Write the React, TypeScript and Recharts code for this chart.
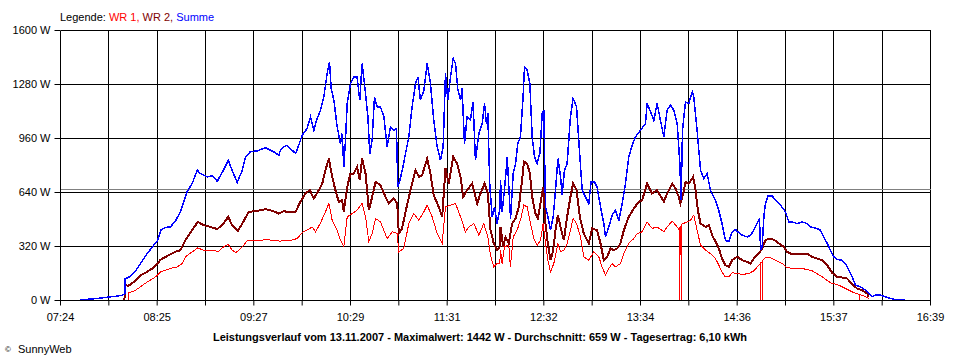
import { LineChart, Line, XAxis, YAxis, CartesianGrid, ReferenceLine } from "recharts";

// time axis in minutes after midnight, 07:24 .. 16:39
const START = 444;
const END = 999;
const TIME_LABELS = ["07:24", "08:25", "09:27", "10:29", "11:31", "12:32", "13:34", "14:36", "15:37", "16:39"];
const Y_TICKS = [0, 320, 640, 960, 1280, 1600];
const AVERAGE = 659;

// [minute, watts]
const WR1: [number, number][] = [
	[487.4, 0], [487.6, 49], [490, 51], [492, 62], [495, 81], [499, 108], [502, 125], [504.6, 140], [508, 170],
	[512, 184], [515, 192], [518.4, 199], [521.6, 219], [523.7, 259], [526, 276], [528, 288], [531.6, 312],
	[535, 298], [538, 296], [541.8, 294], [545, 292], [548, 318], [551, 334], [553.5, 298], [556, 284], [560, 318],
	[563, 354], [567, 356], [571.6, 357], [576, 361], [580, 354], [584.3, 352], [588, 358], [591, 357], [595, 367],
	[598.2, 403], [601.3, 417], [604.5, 436], [606.7, 407], [609.9, 460], [613, 525], [615.2, 575], [617.3, 476],
	[620.5, 417], [622.6, 357], [624.7, 318], [626.9, 496], [630, 515], [633.2, 535], [636.4, 575], [638.6, 496],
	[640.7, 348], [642.8, 397], [645, 486], [648.1, 466], [652.4, 367], [655.6, 407], [658.8, 397], [659.8, 288],
	[663, 308], [666.2, 456], [669.4, 515], [672.6, 476], [675.8, 525], [677.9, 565], [681.1, 496], [684.3, 397],
	[687.5, 338], [689.6, 555], [692.8, 565], [696, 575], [699.2, 496], [702.3, 407], [704.5, 436], [707.7, 456],
	[710.9, 387], [714, 456], [716.6, 377], [718.3, 269], [720.4, 199], [722.5, 219], [724.2, 219], [724.7, 298],
	[725.7, 219], [727.2, 318], [730, 328], [731, 199], [732.8, 377], [735.3, 417], [737.4, 476], [739.6, 565],
	[741.7, 555], [743.8, 456], [746, 367], [748.1, 328], [750.2, 357], [751.9, 456], [753.4, 338], [754.9, 239],
	[756.6, 170], [758.7, 219], [761.3, 338], [763, 288], [765.1, 298], [767.2, 338], [769.3, 417], [771, 486],
	[773.2, 456], [775.7, 377], [777.8, 259], [781, 239], [784.2, 288], [787.4, 259], [789.5, 199], [791.7, 150],
	[793.8, 190], [795.9, 219], [798, 199], [801.2, 219], [803.4, 278], [806.5, 338], [809.7, 367], [811.9, 397],
	[815, 407], [818.2, 466], [821.4, 427], [824.6, 436], [828.9, 407], [831, 436], [834.2, 470], [837.4, 436],
	[838.6, 417], [838.7, 0], [838.8, 430], [839.8, 440], [839.9, 0], [840, 450], [841.2, 456],
	[843.8, 466], [845.9, 476], [848, 506], [850.1, 417], [852.3, 328], [855.5, 298], [858.6, 278], [861.8, 249],
	[864, 209], [866, 170], [868, 140], [870.3, 140], [872.5, 164], [875.7, 160], [878.9, 154], [883.1, 160],
	[886.3, 176], [889.5, 209], [890.5, 219], [890.6, 0], [890.7, 0], [890.8, 225], [891.6, 225], [891.7, 0],
	[891.8, 0], [891.9, 239], [893.7, 253], [897, 253], [900.1, 239], [904.4, 219], [907.6, 194], [912.9, 190],
	[917.1, 190], [923.5, 176], [929.9, 140], [935.2, 105], [940.5, 91], [944.8, 71], [949, 51], [953, 38],
	[953.6, 36], [953.7, 0], [953.8, 36], [956.5, 26], [959.6, 12],
];

const WR2: [number, number][] = [
	[484.8, 0], [485, 99], [487, 85], [490.8, 110], [495, 150], [499.3, 170], [503.5, 195], [508, 243], [512, 263],
	[517, 288], [520.5, 298], [523.7, 357], [528, 417], [531.6, 466], [535.4, 446], [539.7, 436], [544, 423],
	[548, 456], [551, 496], [553.5, 446], [557, 411], [560, 456], [564, 525], [569.5, 531], [574.8, 541], [580, 529],
	[583.3, 515], [586.5, 530], [588.6, 525], [594, 525], [597, 585], [600.3, 634], [603, 654], [605.6, 604],
	[608.2, 644], [611, 693], [613, 772], [615.2, 841], [617.3, 733], [619.4, 654], [621.5, 585], [623.7, 594],
	[624.7, 525], [626.9, 673], [629, 752], [631.1, 752], [633.2, 792], [634.9, 713], [636.4, 841], [638.6, 752],
	[640.7, 535], [642.8, 614], [645, 703], [648.1, 683], [651.3, 614], [653.4, 575], [656.6, 604], [658.8, 575],
	[659.8, 397], [661.9, 427], [664.1, 525], [667.3, 654], [670.5, 772], [672.6, 733], [674.7, 743], [677.9, 841],
	[680, 752], [682.1, 624], [685.3, 555], [687.5, 496], [689.6, 782], [691.7, 693], [694.5, 851], [697, 812],
	[699.2, 733], [700.9, 614], [703.4, 654], [706.6, 693], [709.8, 575], [711.9, 634], [714.5, 693], [716.6, 634],
	[718.3, 417], [720.4, 338], [722.5, 298], [724.2, 318], [724.7, 436], [726.4, 318], [727.9, 377], [730, 338],
	[732.1, 456], [734.3, 486], [736.4, 555], [738.5, 713], [739.6, 822], [741.7, 812], [743.4, 752], [744.9, 614],
	[747, 515], [748.5, 486], [750.2, 575], [751.9, 673], [753.4, 456], [754.9, 338], [756.6, 239], [758.3, 298],
	[759.8, 417], [761.3, 506], [763, 436], [765.1, 357], [767.2, 496], [769.3, 614], [771, 693], [773.2, 654],
	[775.3, 496], [777.8, 397], [781, 338], [783.2, 427], [786.3, 417], [788.5, 338], [790.6, 239], [792.7, 259],
	[794.9, 308], [797, 298], [799.1, 308], [801.2, 338], [803.4, 417], [806.5, 496], [809.7, 545], [812.9, 585],
	[815, 594], [818.2, 693], [821.4, 634], [824.6, 654], [828.9, 585], [831, 634], [834.2, 693], [836.3, 664],
	[838.4, 614], [839.5, 575], [841.2, 634], [842.7, 703], [844.8, 693], [847.6, 733], [849.1, 654], [850.6, 535],
	[852.3, 456], [855.5, 436], [857.6, 446], [859.7, 387], [862.5, 338], [864, 308], [866, 249], [868.2, 209],
	[870.3, 199], [872.5, 239], [875.7, 259], [878.9, 239], [882, 229], [884.2, 219], [886.3, 249], [889.5, 278],
	[891.6, 308], [893.7, 357], [895.9, 367], [899, 361], [902.2, 338], [905.4, 318], [907.6, 288], [909.7, 278],
	[913.9, 275], [917.1, 278], [920.3, 278], [923.5, 259], [926.7, 249], [929.9, 239], [933.1, 209], [936.3, 164],
	[939.4, 140], [942.6, 136], [945.8, 130], [949, 97], [952.2, 71], [955.4, 61], [958.6, 41], [959.6, 22],
];

const SUMME: [number, number][] = [
	[456.5, 5], [460, 6], [465, 10], [470, 15], [476, 22], [480, 26], [483, 30], [485, 40], [485.3, 128], [488, 140],
	[490.8, 164], [493, 190], [495, 219], [499.3, 278], [503.5, 328], [506, 357], [508, 417], [510.5, 432], [514, 436],
	[517, 466], [520.5, 525], [524.8, 644], [528, 693], [531.2, 772], [533.3, 752], [537.6, 733], [540.7, 739],
	[544, 707], [548, 772], [551, 831], [553.5, 772], [556.7, 699], [560, 772], [562, 851], [565, 881], [569.5, 887],
	[574.8, 905], [580, 881], [583.3, 861], [584.3, 891], [586.5, 910], [588.6, 920], [590.7, 900], [594, 871],
	[596, 920], [598.2, 980], [601.3, 1019], [603.5, 1088], [605.6, 1009], [607.7, 1078], [609.9, 1128], [612, 1207],
	[614.1, 1345], [615.6, 1414], [616.7, 1256], [618.4, 1187], [620.5, 1029], [622.6, 930], [623.7, 989],
	[624.7, 792], [625.8, 950], [626.9, 1167], [629, 1286], [631.1, 1325], [633.2, 1325], [634.9, 1187],
	[636.4, 1404], [638.6, 1226], [640.1, 1088], [641.3, 871], [642.8, 950], [644.3, 1207], [646, 1148],
	[648.1, 1148], [650.3, 1088], [652.4, 910], [654.5, 1029], [656.6, 1009], [658.3, 1019], [659.2, 673],
	[660.5, 713], [662, 772], [664.1, 871], [666.2, 970], [668.3, 1148], [670.5, 1286], [672, 1325], [673.6, 1187],
	[675.8, 1246], [677.9, 1404], [680, 1286], [682.1, 1068], [684.3, 910], [686.4, 831], [688.1, 910],
	[689.6, 1345], [691.1, 1187], [692.8, 1325], [694.5, 1434], [696, 1404], [697.4, 1256], [699.2, 1187],
	[700.2, 1256], [701.7, 930], [703.4, 1088], [705.5, 1068], [707.2, 1177], [708.7, 831], [710.9, 989],
	[713, 1049], [714.5, 1167], [715.7, 1049], [716.6, 1108], [717.9, 673], [719.4, 496], [720.9, 555],
	[722.5, 456], [724.2, 535], [724.7, 713], [725.7, 525], [727.2, 654], [729, 851], [730, 673], [731.1, 486],
	[732.8, 752], [734.3, 812], [735.7, 930], [737.4, 970], [739.1, 1207], [740, 1384], [741.7, 1365],
	[743.4, 1286], [744.9, 970], [746.4, 851], [748, 812], [749.8, 871], [751.3, 1108], [752.3, 1128], [753.4, 555],
	[754.9, 496], [756.6, 417], [758.3, 496], [759.8, 654], [761.3, 841], [763, 733], [764, 624], [765.5, 772],
	[767.2, 812], [769.3, 1088], [771, 1197], [773.2, 1148], [774.6, 950], [776.8, 654], [778.9, 614], [781, 575],
	[782.5, 703], [784.6, 703], [786.3, 673], [788.5, 555], [790.6, 456], [791.7, 377], [793.8, 436], [795.9, 506],
	[798, 535], [800.2, 476], [802.3, 575], [804.4, 693], [806.5, 851], [808.7, 920], [810.8, 970], [814, 1009],
	[817.2, 1049], [818.2, 1167], [820.4, 1118], [822.5, 1068], [824.6, 1167], [826.7, 1068], [828.9, 970],
	[831, 1128], [833.1, 1157], [835.2, 1128], [837.4, 1049], [839.1, 812], [839.9, 594], [840.8, 1009],
	[842.7, 1177], [844.8, 1167], [847, 1236], [848, 1207], [850.1, 1009], [852.3, 772], [854.4, 723], [856.5, 752],
	[858.6, 654], [861.8, 594], [863.9, 535], [866, 456], [868.2, 357], [870.3, 348], [872.5, 407], [874.6, 421],
	[876, 407], [878.9, 387], [882, 377], [884.2, 387], [886.3, 417], [888.4, 456], [889.9, 486], [890.6, 298],
	[891.6, 318], [892.7, 496], [893.7, 575], [895.4, 620], [898, 620], [900.1, 594], [903.3, 565], [906.5, 525],
	[908.6, 466], [910.8, 466], [913.9, 456], [917.1, 466], [920.3, 456], [922.4, 436], [925.6, 430], [928.8, 417],
	[930.9, 377], [933.1, 338], [935.2, 298], [937.3, 259], [939.4, 243], [942.2, 239], [944.8, 219], [946.9, 180],
	[949, 140], [951.1, 91], [954.3, 81], [957.5, 61], [959.6, 41], [961.8, 22], [963.9, 32], [967, 32],
	[970.3, 22], [973.5, 12], [976.7, 6], [983, 6],
];

const toRows = (pts: [number, number][]) => pts.map(([t, w]) => ({ t, w }));

// one grid line every 1/18 of the span, labels on every second one
const X_TICKS = Array.from({ length: 19 }, (_, i) => START + (i * (END - START)) / 18);

const FONT = "'Liberation Sans', Arial, sans-serif";
const tickStyle = { fill: "#000", fontSize: 11, fontFamily: FONT };

export default function App() {
	return (
		<div style={{ position: "absolute", left: 0, top: 0, width: 960, height: 360, background: "#fff" }}>
			<LineChart width={960} height={360} margin={{ top: 30.5, right: 29.5, bottom: 29.5, left: 0 }}>
				<CartesianGrid stroke="#000" strokeWidth={1} shapeRendering="crispEdges" />
				<XAxis
					type="number"
					dataKey="t"
					domain={[START, END]}
					ticks={X_TICKS}
					interval={0}
					height={30}
					tickFormatter={(v, i) => (i % 2 === 0 ? TIME_LABELS[i / 2] : "")}
					tick={tickStyle}
					tickSize={5}
					tickMargin={8}
					stroke="#000"
					axisLine={{ stroke: "#000" }}
					tickLine={{ stroke: "#000" }}
				/>
				<YAxis
					type="number"
					domain={[0, 1600]}
					ticks={Y_TICKS}
					interval={0}
					width={60.5}
					tickFormatter={(v) => `${v} W`}
					tick={tickStyle}
					tickSize={6}
					tickMargin={4}
					axisLine={{ stroke: "#000" }}
					tickLine={{ stroke: "#000" }}
				/>
				<ReferenceLine y={AVERAGE} stroke="#808080" strokeWidth={1} shapeRendering="crispEdges" />
				<Line data={toRows(WR1)} dataKey="w" type="linear" stroke="#ff0000" strokeWidth={1} shapeRendering="crispEdges" dot={false} isAnimationActive={false} />
				<Line data={toRows(WR2)} dataKey="w" type="linear" stroke="#800000" strokeWidth={2} shapeRendering="crispEdges" dot={false} isAnimationActive={false} />
				<Line data={toRows(SUMME)} dataKey="w" type="linear" stroke="#0000ff" strokeWidth={1.5} shapeRendering="crispEdges" dot={false} isAnimationActive={false} />
			</LineChart>
			<svg width={960} height={360} style={{ position: "absolute", left: 0, top: 0, pointerEvents: "none" }}>
				<text x={60} y={20.5} fontSize={11} fontFamily={FONT}>
					<tspan fill="#000">Legende: </tspan>
					<tspan fill="#ff0000">WR 1, </tspan>
					<tspan fill="#800000">WR 2, </tspan>
					<tspan fill="#0000ff">Summe</tspan>
				</text>
				<text x={480} y={340.5} fontSize={11} fontWeight="bold" fontFamily={FONT} textAnchor="middle" fill="#000">
					Leistungsverlauf vom 13.11.2007 - Maximalwert: 1442 W - Durchschnitt: {AVERAGE} W - Tagesertrag: 6,10 kWh
				</text>
				<text x={5} y={352} fontSize={8} fontFamily={FONT} fill="#000">©</text>
				<text x={18} y={353} fontSize={11} fontFamily={FONT} fill="#000">SunnyWeb</text>
			</svg>
		</div>
	);
}
